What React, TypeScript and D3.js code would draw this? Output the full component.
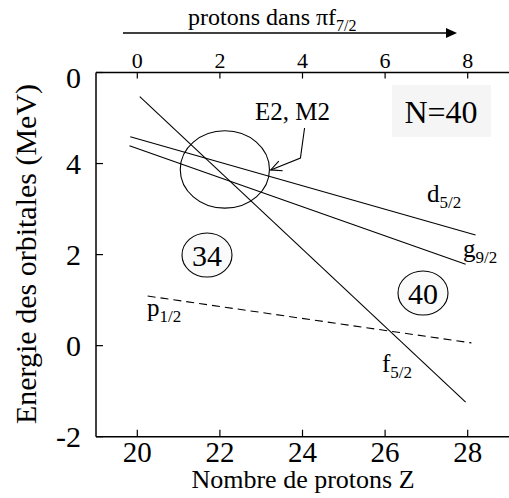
import React from "react";
import * as d3 from "d3";

// Orbital energy lines (straight segments between two points)
const orbitals = ["f5/2", "d5/2", "g9/2", "p1/2"];
const zStart = [20.06, 19.83, 19.81, 20.25];
const eStart = [5.47, 4.59, 4.39, 1.09];
const zEnd = [27.95, 28.19, 27.95, 28.09];
const eEnd = [-1.24, 2.43, 1.79, 0.06];
const dashed = [false, false, false, true];

const zTicks = [20, 22, 24, 26, 28];
const zTickLabels = ["20", "22", "24", "26", "28"];
const topTickLabels = ["0", "2", "4", "6", "8"];
const eTicks = [-2, 0, 2, 4, 6];
const eTickLabels = ["-2", "0", "2", "4", "0"];

const W = 509;
const H = 498;
const FONT = "Liberation Serif";

export default function App() {
  const x = d3.scaleLinear().domain([19, 29]).range([96, 509]);
  const y = d3.scaleLinear().domain([-2, 6]).range([436.7, 72.5]);
  const left = 96;
  const top = y(6);
  const bottom = y(-2);

  const lineGen = d3
    .line<[number, number]>()
    .x((d) => x(d[0]))
    .y((d) => y(d[1]));

  // Ellipse marking the E2, M2 crossing region (data coords)
  const ell = { z: 22.12, e: 3.87, rz: 1.08, re: 0.85 };
  const arrowPts: [number, number][] = [
    [24.05, 4.78],
    [23.95, 4.12],
    [23.23, 3.86],
  ];
  const tip = [x(arrowPts[2][0]), y(arrowPts[2][1])];
  const prev = [x(arrowPts[1][0]), y(arrowPts[1][1])];
  const ang = Math.atan2(tip[1] - prev[1], tip[0] - prev[0]);
  const ah = 12;
  const aw = 0.45;
  const a1 = [tip[0] - ah * Math.cos(ang - aw), tip[1] - ah * Math.sin(ang - aw)];
  const a2 = [tip[0] - ah * Math.cos(ang + aw), tip[1] - ah * Math.sin(ang + aw)];

  const T = (props: any) => <text style={{ fontFamily: FONT }} fill="#000" {...props} />;

  const sub = (main: string, s: string, px: number, py: number, fs = 25) => (
    <T x={px} y={py} fontSize={fs}>
      {main}
      <tspan fontSize={fs * 0.68} dy={fs * 0.25}>
        {s}
      </tspan>
    </T>
  );

  return (
    <svg
      width={W}
      height={H}
      style={{ position: "absolute", left: 0, top: 0, background: "#fff" }}
    >
      <rect x={0} y={0} width={W} height={H} fill="#fff" />

      {/* top title + arrow */}
      <T x={188} y={25} fontSize={24}>
        protons dans πf
        <tspan fontSize={16} dy={6}>
          7/2
        </tspan>
      </T>
      <line x1={123} x2={448} y1={33} y2={33} stroke="#000" strokeWidth={1.3} />
      <path d="M446,28 L457,33 L446,38 Z" fill="#000" />

      {/* axes */}
      <line x1={left} x2={W} y1={top} y2={top} stroke="#000" strokeWidth={1.5} />
      <line x1={left} x2={W} y1={bottom} y2={bottom} stroke="#000" strokeWidth={1.5} />
      <line x1={left} x2={left} y1={top} y2={bottom} stroke="#000" strokeWidth={1.5} />

      {zTicks.map((t, i) => (
        <g key={"zt" + t}>
          <line x1={x(t)} x2={x(t)} y1={bottom} y2={bottom - 7} stroke="#000" strokeWidth={1.2} />
          <line x1={x(t)} x2={x(t)} y1={top} y2={top + 6} stroke="#000" strokeWidth={1.2} />
          <T x={x(t)} y={462} fontSize={29} textAnchor="middle">
            {zTickLabels[i]}
          </T>
          <T x={x(t)} y={68} fontSize={22} textAnchor="middle">
            {topTickLabels[i]}
          </T>
        </g>
      ))}

      {eTicks.map((t, i) => (
        <g key={"et" + t}>
          <line x1={left} x2={left + 7} y1={y(t)} y2={y(t)} stroke="#000" strokeWidth={1.2} />
          <T
            x={81}
            y={y(t) + (i === eTicks.length - 1 ? 5 : 0)}
            dy="0.35em"
            fontSize={30}
            textAnchor="end"
          >
            {eTickLabels[i]}
          </T>
        </g>
      ))}

      {/* axis titles */}
      <T x={303} y={488} fontSize={26} textAnchor="middle">
        Nombre de protons Z
      </T>
      <T transform={`translate(36,254) rotate(-90)`} fontSize={30} textAnchor="middle">
        Energie des orbitales (MeV)
      </T>

      {/* orbital lines */}
      {orbitals.map((o, i) => (
        <path
          key={o}
          d={
            lineGen([
              [zStart[i], eStart[i]],
              [zEnd[i], eEnd[i]],
            ]) || ""
          }
          fill="none"
          stroke="#000"
          strokeWidth={1.1}
          strokeDasharray={dashed[i] ? "8,5" : undefined}
        />
      ))}

      {/* ellipse + arrow */}
      <ellipse
        cx={x(ell.z)}
        cy={y(ell.e)}
        rx={x(ell.z + ell.rz) - x(ell.z)}
        ry={y(ell.e - ell.re) - y(ell.e)}
        fill="none"
        stroke="#000"
        strokeWidth={1.1}
      />
      <path d={lineGen(arrowPts) || ""} fill="none" stroke="#000" strokeWidth={1.1} />
      <path
        d={`M${a1[0]},${a1[1]} L${tip[0]},${tip[1]} L${a2[0]},${a2[1]}`}
        fill="none"
        stroke="#000"
        strokeWidth={1.1}
      />
      <T x={255} y={120} fontSize={25}>
        E2, M2
      </T>

      {/* N=40 box */}
      <rect x={392} y={85} width={99} height={52} fill="#f5f5f5" />
      <T x={441} y={123} fontSize={32} textAnchor="middle">
        N=40
      </T>

      {/* orbital labels */}
      {sub("d", "5/2", 427, 202)}
      {sub("g", "9/2", 463, 257)}
      {sub("p", "1/2", 147, 316)}
      {sub("f", "5/2", 382, 372)}

      {/* circled gap numbers */}
      <ellipse cx={207} cy={255} rx={25} ry={22} fill="#fafafa" stroke="#000" strokeWidth={1.1} />
      <T x={207} y={255} dy="0.35em" fontSize={30} textAnchor="middle">
        34
      </T>
      <ellipse cx={423} cy={293} rx={25} ry={22} fill="#fafafa" stroke="#000" strokeWidth={1.1} />
      <T x={423} y={293} dy="0.35em" fontSize={30} textAnchor="middle">
        40
      </T>
    </svg>
  );
}
